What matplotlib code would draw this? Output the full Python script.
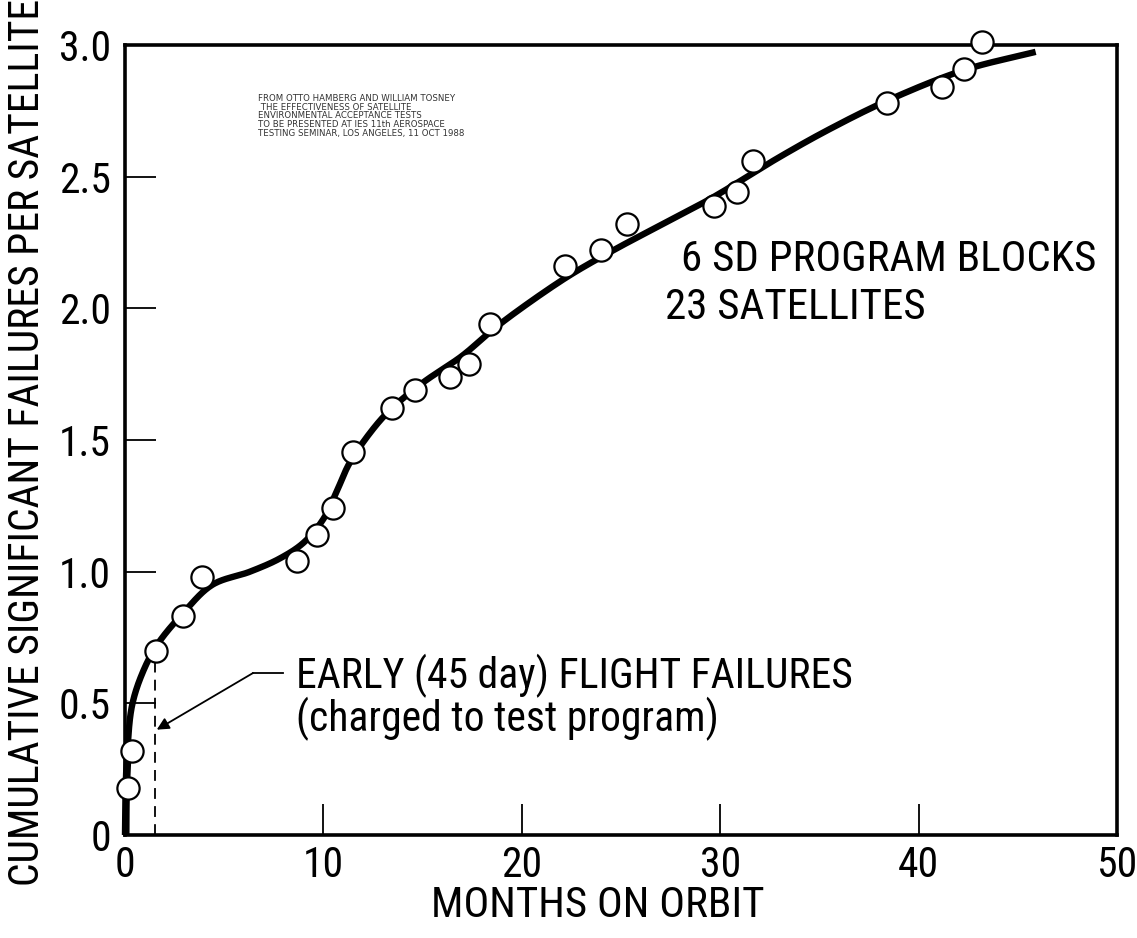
import numpy as np
import matplotlib
matplotlib.use("Agg")
import matplotlib.pyplot as plt

# Observed cumulative significant failures per satellite
months = [0.15, 0.35, 1.56, 2.9, 3.9, 8.67, 9.68, 10.5, 11.5, 13.46, 14.6,
          16.4, 17.35, 18.4, 22.2, 24.0, 25.3, 29.7, 30.85, 31.65, 38.4,
          41.2, 42.3, 43.2]
failures = [0.18, 0.32, 0.70, 0.83, 0.98, 1.04, 1.14, 1.24, 1.455, 1.62, 1.69,
            1.74, 1.79, 1.94, 2.16, 2.22, 2.32, 2.39, 2.44, 2.56, 2.78,
            2.84, 2.91, 3.01]

# Hand-faired trend curve (knots)
curve_x = [0, 0.02, 0.12, 0.35, 0.85, 1.6, 2.9, 4.4, 6.3, 7.8, 9.0, 10.0,
           10.7, 11.3, 12.35, 13.36, 15.0, 17.0, 18.4, 19.6, 22.3, 24.6,
           27.1, 29.6, 33.0, 35.5, 38.46, 42.3, 45.9]
curve_y = [0, 0.15, 0.32, 0.49, 0.61, 0.72, 0.84, 0.95, 1.0, 1.05, 1.11, 1.2,
           1.31, 1.41, 1.527, 1.614, 1.717, 1.82, 1.91, 1.98, 2.12, 2.22,
           2.32, 2.42, 2.575, 2.68, 2.79, 2.905, 2.974]

x_ticks = [0, 10, 20, 30, 40, 50]
y_ticks = [0, 0.5, 1.0, 1.5, 2.0, 2.5, 3.0]
y_tick_labels = ["0", "0.5", "1.0", "1.5", "2.0", "2.5", "3.0"]

early_cutoff = 1.5  # 45 days, in months

source_note = ("FROM OTTO HAMBERG AND WILLIAM TOSNEY\n"
               " THE EFFECTIVENESS OF SATELLITE\n"
               "ENVIRONMENTAL ACCEPTANCE TESTS\n"
               "TO BE PRESENTED AT IES 11th AEROSPACE\n"
               "TESTING SEMINAR, LOS ANGELES, 11 OCT 1988")


def catmull_rom(xs, ys, sx, sy, n=30):
    """Centripetal Catmull-Rom spline through the knots (scaled space)."""
    P = np.column_stack([np.asarray(xs) * sx, np.asarray(ys) * sy])
    P = np.vstack([2 * P[0] - P[1], P, 2 * P[-1] - P[-2]])
    out = []
    for i in range(1, len(P) - 2):
        p0, p1, p2, p3 = P[i - 1], P[i], P[i + 1], P[i + 2]
        t0 = 0.0
        t1 = t0 + np.linalg.norm(p1 - p0) ** 0.5
        t2 = t1 + np.linalg.norm(p2 - p1) ** 0.5
        t3 = t2 + np.linalg.norm(p3 - p2) ** 0.5
        t = np.linspace(t1, t2, n)[:, None]
        a1 = (t1 - t) / (t1 - t0) * p0 + (t - t0) / (t1 - t0) * p1
        a2 = (t2 - t) / (t2 - t1) * p1 + (t - t1) / (t2 - t1) * p2
        a3 = (t3 - t) / (t3 - t2) * p2 + (t - t2) / (t3 - t2) * p3
        b1 = (t2 - t) / (t2 - t0) * a1 + (t - t0) / (t2 - t0) * a2
        b2 = (t3 - t) / (t3 - t1) * a2 + (t - t1) / (t3 - t1) * a3
        c = (t2 - t) / (t2 - t1) * b1 + (t - t1) / (t2 - t1) * b2
        out.append(c)
    pts = np.vstack(out)
    return pts[:, 0] / sx, pts[:, 1] / sy


FONT = ["Roboto Condensed", "Archivo Narrow", "DejaVu Sans"]
plt.rcParams["font.family"] = FONT

fig = plt.figure(figsize=(11.37, 9.38), dpi=100)
ax = fig.add_axes([125 / 1137, 103 / 938, (1117 - 125) / 1137, (835 - 45) / 938])

ax.set_xlim(0, 50)
ax.set_ylim(0, 3.0)

cx, cy = catmull_rom(curve_x, curve_y, 19.84, 263.3)
ax.plot(cx, cy, color="black", lw=4.6, solid_capstyle="butt", zorder=3,
        clip_on=False)
# heavier stroke along the launch ramp
ax.plot(cx[cy < 0.3], cy[cy < 0.3], color="black", lw=6.5, zorder=3,
        solid_capstyle="butt")

ax.plot(months, failures, linestyle="none", marker="o", markersize=16,
        markerfacecolor="white", markeredgecolor="black", markeredgewidth=1.6,
        zorder=5, clip_on=False)

# 45-day boundary
ax.plot([early_cutoff, early_cutoff], [0, 0.66], color="black", lw=1.3,
        dashes=(6, 4), zorder=2)

ax.annotate("", xy=(1.6, 0.40), xytext=(6.45, 0.615),
            arrowprops=dict(arrowstyle="-|>", color="black", lw=1.3,
                            mutation_scale=18, shrinkA=0, shrinkB=0))
ax.plot([6.45, 7.96], [0.615, 0.615], color="black", lw=1.3)
ax.text(8.6, 0.605, "EARLY (45 day) FLIGHT FAILURES", fontsize=30,
        va="center", ha="left")
ax.text(8.6, 0.44, "(charged to test program)", fontsize=30,
        va="center", ha="left")

ax.text(28.0, 2.185, "6 SD PROGRAM BLOCKS", fontsize=31, va="center",
        ha="left")
ax.text(27.2, 2.005, "23 SATELLITES", fontsize=31, va="center", ha="left")

ax.text(6.7, 2.815, source_note, fontsize=6.2, va="top", ha="left",
        linespacing=0.98, color="#333333", family="DejaVu Sans")

for s in ax.spines.values():
    s.set_linewidth(2.6)

ax.set_xticks(x_ticks)
ax.set_yticks(y_ticks)
ax.set_yticklabels(y_tick_labels)
ax.tick_params(direction="in", length=22, width=1.3, labelsize=30, pad=10)
ax.tick_params(axis="x", pad=7)

fig.text(598 / 1137, 33 / 938, "MONTHS ON ORBIT", fontsize=31,
         ha="center", va="center")
fig.text(28 / 1137, (938 - 442) / 938,
         "CUMULATIVE SIGNIFICANT FAILURES PER SATELLITE", fontsize=30,
         rotation=90, ha="center", va="center")

fig.savefig("out.png", dpi=100, facecolor="white")
